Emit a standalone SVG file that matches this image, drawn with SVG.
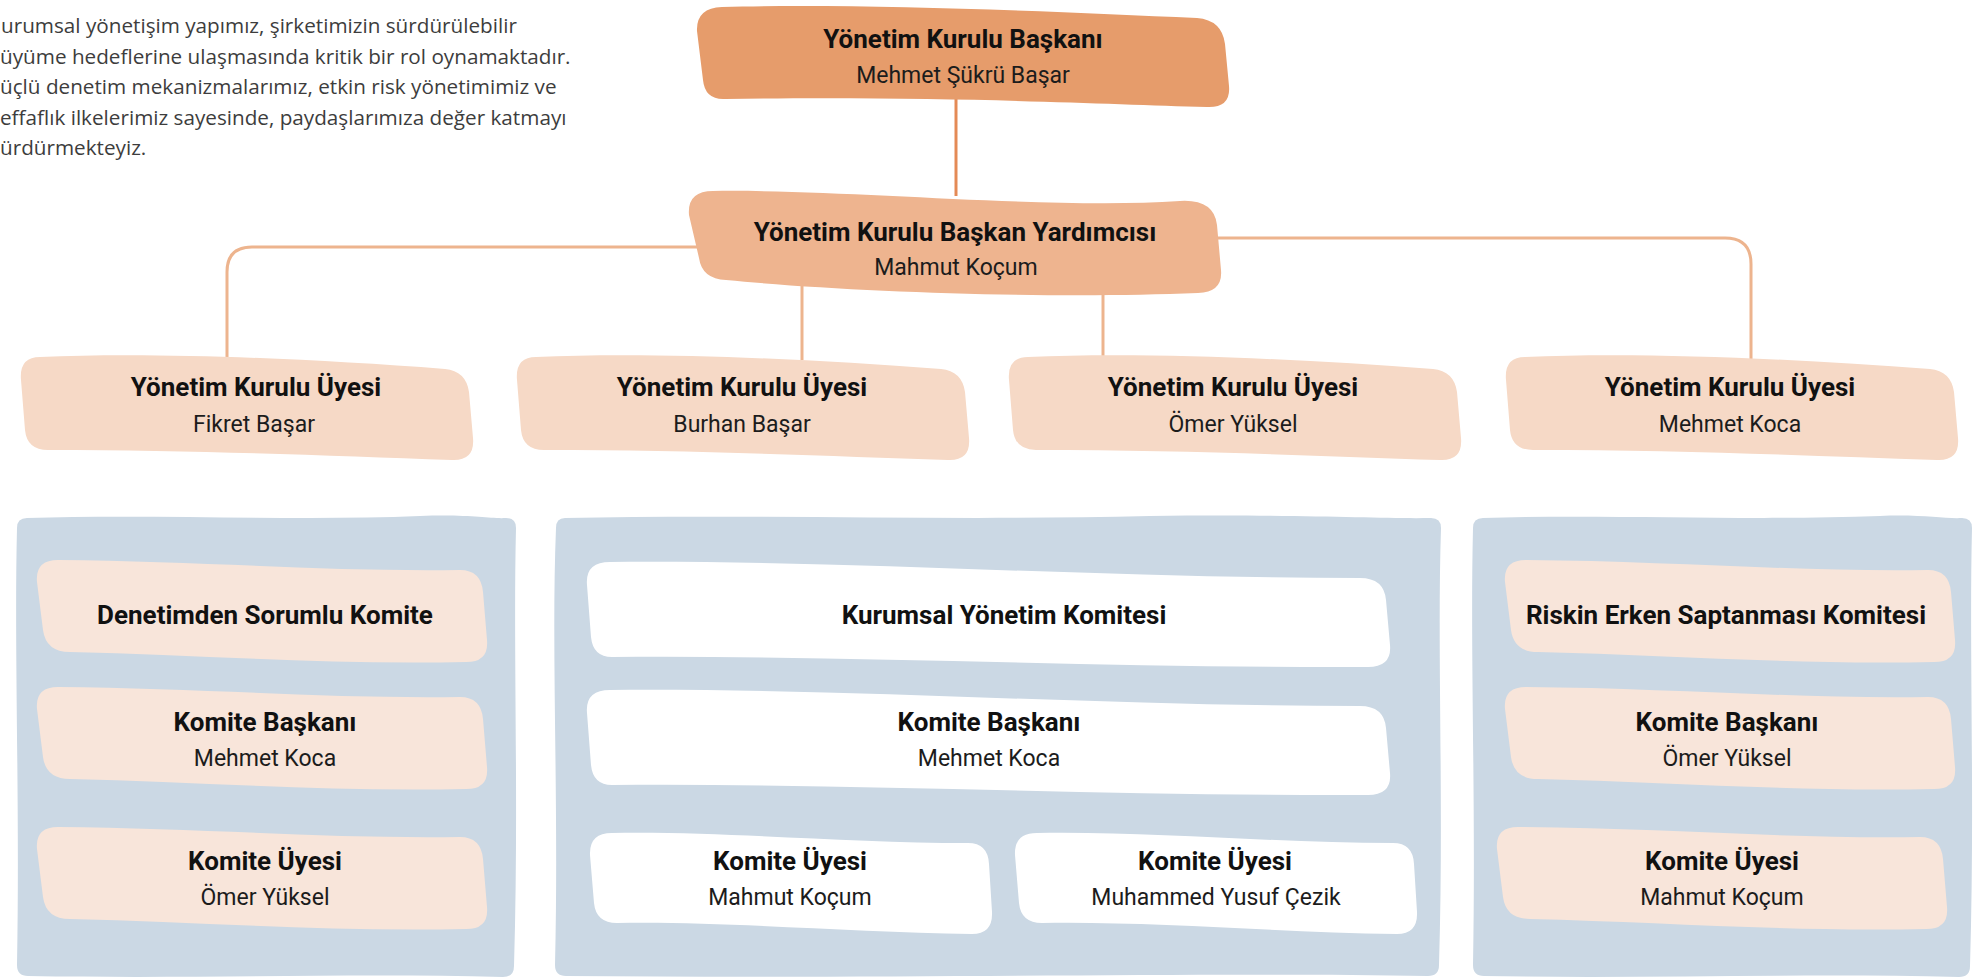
<svg xmlns="http://www.w3.org/2000/svg" xmlns:xlink="http://www.w3.org/1999/xlink" width="1979" height="979" viewBox="0 0 1979 979">
<style>
.t{font-family:Roboto,"Noto Sans","DejaVu Sans",sans-serif;font-weight:700;font-size:26px;fill:#111111;text-anchor:middle}
.n{font-family:Roboto,"Noto Sans","DejaVu Sans",sans-serif;font-weight:400;font-size:23px;fill:#1c1c1c;text-anchor:middle}
.intro{font-family:"Open Sans","Noto Sans",sans-serif;font-size:20.7px;fill:#3d3d3d}
.c1{fill:none;stroke:#E48A56;stroke-width:3}
.c2{fill:none;stroke:#EDB48E;stroke-width:3}
.panel{fill:#CBD8E4}
.top{fill:#E69C6B}
.vice{fill:#EEB48F}
.mem{fill:#F6D9C6}
.peach{fill:#F8E5DA}
.white{fill:#FFFFFF}
</style>
<defs>
<path id="memShape" d="M40 357 C150 352 300 358 445 369 Q466 371 469 392 L473 438 Q475 461 452 460 C330 456 200 450 48 450 Q27 450 25 430 L21 380 Q19 357 40 357 Z"/>
<path id="comShape" d="M58 560 C200 561 330 572 460 570 Q481 570 483 592 L487 640 Q489 662 466 662 C330 665 200 655 70 652 Q46 652 43 630 L37 582 Q35 560 58 560 Z"/>
<path id="wideShape" d="M610 562 C850 560 1100 578 1360 578 Q1384 578 1386 600 L1390 645 Q1392 667 1368 667 C1100 668 850 655 612 657 Q593 657 591 637 L587 585 Q585 562 610 562 Z"/>
<path id="smallShape" d="M612 833 C720 831 850 843 968 843 Q988 843 989 864 L992 912 Q993 934 972 934 C850 932 720 921 617 923 Q596 923 594 903 L590 855 Q589 833 612 833 Z"/>
</defs>

<g id="intro">
<text class="intro" x="1" y="33">urumsal yönetişim yapımız, şirketimizin sürdürülebilir</text>
<text class="intro" x="0" y="63.5">üyüme hedeflerine ulaşmasında kritik bir rol oynamaktadır.</text>
<text class="intro" x="0" y="94">üçlü denetim mekanizmalarımız, etkin risk yönetimimiz ve</text>
<text class="intro" x="0" y="124.5">effaflık ilkelerimiz sayesinde, paydaşlarımıza değer katmayı</text>
<text class="intro" x="0" y="155">ürdürmekteyiz.</text>
</g>

<g id="connectors">
<path class="c1" d="M956 96 V196"/>
<path class="c2" d="M700 247 H252 Q227 247 227 272 V360"/>
<path class="c2" d="M1210 238 H1725 Q1751 238 1751 264 V362"/>
<path class="c2" d="M802 285 V360"/>
<path class="c2" d="M1103 285 V360"/>
</g>

<g id="node-baskan">
<path class="top" d="M722 7 C850 3 1050 11 1197 18 Q1222 20 1225 44 L1229 86 Q1231 108 1207 107 C1100 104 950 96 725 99 Q705 100 703 80 L697 31 Q696 8 722 7 Z"/>
<text class="t" x="963" y="48">Yönetim Kurulu Başkanı</text>
<text class="n" x="963" y="83">Mehmet Şükrü Başar</text>
</g>

<g id="node-baskan-yardimcisi">
<path class="vice" d="M713 191 C850 189 1050 210 1180 201 Q1214 199 1217 225 L1221 270 Q1223 292 1198 293 C1050 299 850 292 726 280 Q702 279 699 258 L689 215 Q687 191 713 191 Z"/>
<text class="t" x="955" y="241">Yönetim Kurulu Başkan Yardımcısı</text>
<text class="n" x="956" y="275">Mahmut Koçum</text>
</g>

<g id="node-uye-fikret">
<use xlink:href="#memShape" class="mem"/>
<text class="t" x="256" y="396">Yönetim Kurulu Üyesi</text>
<text class="n" x="254" y="432">Fikret Başar</text>
</g>
<g id="node-uye-burhan">
<use xlink:href="#memShape" class="mem" transform="translate(496 0)"/>
<text class="t" x="742" y="396">Yönetim Kurulu Üyesi</text>
<text class="n" x="742" y="432">Burhan Başar</text>
</g>
<g id="node-uye-omer">
<use xlink:href="#memShape" class="mem" transform="translate(988 0)"/>
<text class="t" x="1233" y="396">Yönetim Kurulu Üyesi</text>
<text class="n" x="1233" y="432">Ömer Yüksel</text>
</g>
<g id="node-uye-mehmet">
<use xlink:href="#memShape" class="mem" transform="translate(1485 0)"/>
<text class="t" x="1730" y="396">Yönetim Kurulu Üyesi</text>
<text class="n" x="1730" y="432">Mehmet Koca</text>
</g>

<g id="panel-denetim">
<path class="panel" d="M27 518 C150 514 300 521 420 516 C470 514 490 519 506 518 Q516 518 516 528 C513 650 519 800 514 966 Q514 977 503 977 C350 973 200 979 28 976 Q17 976 17 965 C20 800 14 650 17 528 Q17 518 27 518 Z"/>
</g>
<g id="panel-kurumsal">
<path class="panel" d="M565 518 C750 514 950 521 1150 516 C1300 514 1380 519 1431 518 Q1441 518 1441 528 C1437 650 1444 800 1439 965 Q1439 976 1428 976 C1200 972 900 979 566 976 Q555 976 555 965 C559 800 551 650 556 528 Q556 518 565 518 Z"/>
</g>
<g id="panel-risk">
<path class="panel" d="M1483 518 C1600 514 1750 521 1880 516 C1920 514 1945 519 1962 518 Q1972 518 1972 528 C1969 650 1975 800 1970 966 Q1970 977 1959 977 C1800 973 1650 979 1484 976 Q1473 976 1473 965 C1476 800 1470 650 1473 528 Q1473 518 1483 518 Z"/>
</g>

<g id="node-denetim-komite">
<use xlink:href="#comShape" class="peach"/>
<text class="t" x="265" y="624">Denetimden Sorumlu Komite</text>
</g>
<g id="node-denetim-baskan">
<use xlink:href="#comShape" class="peach" transform="translate(0 127)"/>
<text class="t" x="265" y="731">Komite Başkanı</text>
<text class="n" x="265" y="766">Mehmet Koca</text>
</g>
<g id="node-denetim-uye">
<use xlink:href="#comShape" class="peach" transform="translate(0 267)"/>
<text class="t" x="265" y="870">Komite Üyesi</text>
<text class="n" x="265" y="905">Ömer Yüksel</text>
</g>

<g id="node-kurumsal-komite">
<use xlink:href="#wideShape" class="white"/>
<text class="t" x="1004" y="624">Kurumsal Yönetim Komitesi</text>
</g>
<g id="node-kurumsal-baskan">
<use xlink:href="#wideShape" class="white" transform="translate(0 128)"/>
<text class="t" x="989" y="731">Komite Başkanı</text>
<text class="n" x="989" y="766">Mehmet Koca</text>
</g>
<g id="node-kurumsal-uye-1">
<use xlink:href="#smallShape" class="white"/>
<text class="t" x="790" y="870">Komite Üyesi</text>
<text class="n" x="790" y="905">Mahmut Koçum</text>
</g>
<g id="node-kurumsal-uye-2">
<use xlink:href="#smallShape" class="white" transform="translate(425 0)"/>
<text class="t" x="1215" y="870">Komite Üyesi</text>
<text class="n" x="1216" y="905">Muhammed Yusuf Çezik</text>
</g>

<g id="node-risk-komite">
<use xlink:href="#comShape" class="peach" transform="translate(1468 0)"/>
<text class="t" x="1726" y="624">Riskin Erken Saptanması Komitesi</text>
</g>
<g id="node-risk-baskan">
<use xlink:href="#comShape" class="peach" transform="translate(1468 127)"/>
<text class="t" x="1727" y="731">Komite Başkanı</text>
<text class="n" x="1727" y="766">Ömer Yüksel</text>
</g>
<g id="node-risk-uye">
<use xlink:href="#comShape" class="peach" transform="translate(1460 267)"/>
<text class="t" x="1722" y="870">Komite Üyesi</text>
<text class="n" x="1722" y="905">Mahmut Koçum</text>
</g>
</svg>
